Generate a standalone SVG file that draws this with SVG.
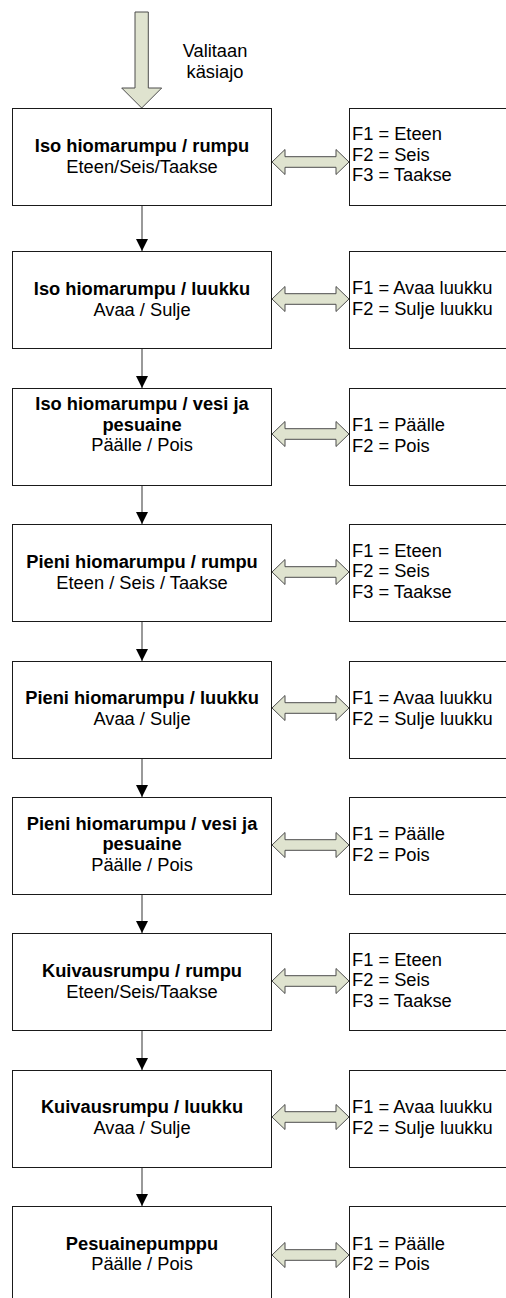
<svg xmlns="http://www.w3.org/2000/svg" width="506" height="1298" viewBox="0 0 506 1298">
  <style>
    .box { fill: #ffffff; stroke: #1a1a1a; stroke-width: 1; }
    .block { fill: #dfe3cf; stroke: #4d4d4d; stroke-width: 1; stroke-linejoin: miter; }
    .flow { stroke: #555555; stroke-width: 1.2; fill: none; }
    text { font-family: "Liberation Sans", Arial, sans-serif; font-size: 18.3px; fill: #000000; }
    .title { font-weight: bold; text-anchor: middle; }
    .sub { text-anchor: middle; }
    .key { text-anchor: start; }
  </style>
  <defs>
    <marker id="head" markerUnits="userSpaceOnUse" markerWidth="12" markerHeight="12" refX="12" refY="6" orient="auto" viewBox="0 0 12 12">
      <path d="M0,0 L12,6 L0,12 Z" fill="#000000"/>
    </marker>
    <!-- two-way block arrow between a control box and its key box -->
    <path id="dbl" class="block" d="M272,0 L285,-12.5 L285,-5.3 L336,-5.3 L336,-12.5 L349,0 L336,12.5 L336,5.3 L285,5.3 L285,12.5 Z"/>
  </defs>

  <!-- entry arrow -->
  <g id="entry">
    <path class="block" d="M135,12 L148.3,12 L148.3,88 L161.7,88 L141.7,108 L121.7,88 L135,88 Z"/>
    <text class="sub" x="215" y="57">Valitaan</text>
    <text class="sub" x="215" y="78">käsiajo</text>
  </g>

  <!-- control boxes -->
  <g id="n1">
    <rect class="box" x="12.5" y="108.5" width="259" height="97"/>
    <text class="title" x="142" y="152">Iso hiomarumpu / rumpu</text>
    <text class="sub" x="142" y="172.7">Eteen/Seis/Taakse</text>
  </g>
  <g id="n2">
    <rect class="box" x="12.5" y="251.5" width="259" height="97"/>
    <text class="title" x="142" y="295">Iso hiomarumpu / luukku</text>
    <text class="sub" x="142" y="315.7">Avaa / Sulje</text>
  </g>
  <g id="n3">
    <rect class="box" x="12.5" y="388.5" width="259" height="97"/>
    <text class="title" x="142" y="410">Iso hiomarumpu / vesi ja</text>
    <text class="title" x="142" y="430.7">pesuaine</text>
    <text class="sub" x="142" y="451.4">Päälle / Pois</text>
  </g>
  <g id="n4">
    <rect class="box" x="12.5" y="524.5" width="259" height="97"/>
    <text class="title" x="142" y="568">Pieni hiomarumpu / rumpu</text>
    <text class="sub" x="142" y="588.7">Eteen / Seis / Taakse</text>
  </g>
  <g id="n5">
    <rect class="box" x="12.5" y="661.5" width="259" height="97"/>
    <text class="title" x="142" y="704">Pieni hiomarumpu / luukku</text>
    <text class="sub" x="142" y="724.7">Avaa / Sulje</text>
  </g>
  <g id="n6">
    <rect class="box" x="12.5" y="797.5" width="259" height="97"/>
    <text class="title" x="142" y="829.5">Pieni hiomarumpu / vesi ja</text>
    <text class="title" x="142" y="850.2">pesuaine</text>
    <text class="sub" x="142" y="870.9">Päälle / Pois</text>
  </g>
  <g id="n7">
    <rect class="box" x="12.5" y="933.5" width="259" height="97"/>
    <text class="title" x="142" y="977">Kuivausrumpu / rumpu</text>
    <text class="sub" x="142" y="997.7">Eteen/Seis/Taakse</text>
  </g>
  <g id="n8">
    <rect class="box" x="12.5" y="1070.5" width="259" height="97"/>
    <text class="title" x="142" y="1113">Kuivausrumpu / luukku</text>
    <text class="sub" x="142" y="1133.7">Avaa / Sulje</text>
  </g>
  <g id="n9">
    <rect class="box" x="12.5" y="1206.5" width="259" height="97"/>
    <text class="title" x="142" y="1249.5">Pesuainepumppu</text>
    <text class="sub" x="142" y="1270.2">Päälle / Pois</text>
  </g>

  <!-- function key boxes -->
  <g id="k1">
    <rect class="box" x="349.5" y="108.5" width="170" height="97"/>
    <text class="key" x="352" y="140">F1 = Eteen</text>
    <text class="key" x="352" y="160.7">F2 = Seis</text>
    <text class="key" x="352" y="181.4">F3 = Taakse</text>
  </g>
  <g id="k2">
    <rect class="box" x="349.5" y="251.5" width="170" height="97"/>
    <text class="key" x="352" y="294">F1 = Avaa luukku</text>
    <text class="key" x="352" y="314.7">F2 = Sulje luukku</text>
  </g>
  <g id="k3">
    <rect class="box" x="349.5" y="388.5" width="170" height="97"/>
    <text class="key" x="352" y="431">F1 = Päälle</text>
    <text class="key" x="352" y="451.7">F2 = Pois</text>
  </g>
  <g id="k4">
    <rect class="box" x="349.5" y="524.5" width="170" height="97"/>
    <text class="key" x="352" y="556.5">F1 = Eteen</text>
    <text class="key" x="352" y="577.2">F2 = Seis</text>
    <text class="key" x="352" y="597.9">F3 = Taakse</text>
  </g>
  <g id="k5">
    <rect class="box" x="349.5" y="661.5" width="170" height="97"/>
    <text class="key" x="352" y="704">F1 = Avaa luukku</text>
    <text class="key" x="352" y="724.7">F2 = Sulje luukku</text>
  </g>
  <g id="k6">
    <rect class="box" x="349.5" y="797.5" width="170" height="97"/>
    <text class="key" x="352" y="840">F1 = Päälle</text>
    <text class="key" x="352" y="860.7">F2 = Pois</text>
  </g>
  <g id="k7">
    <rect class="box" x="349.5" y="933.5" width="170" height="97"/>
    <text class="key" x="352" y="965.5">F1 = Eteen</text>
    <text class="key" x="352" y="986.2">F2 = Seis</text>
    <text class="key" x="352" y="1006.9">F3 = Taakse</text>
  </g>
  <g id="k8">
    <rect class="box" x="349.5" y="1070.5" width="170" height="97"/>
    <text class="key" x="352" y="1113">F1 = Avaa luukku</text>
    <text class="key" x="352" y="1133.7">F2 = Sulje luukku</text>
  </g>
  <g id="k9">
    <rect class="box" x="349.5" y="1206.5" width="170" height="97"/>
    <text class="key" x="352" y="1249.5">F1 = Päälle</text>
    <text class="key" x="352" y="1270.2">F2 = Pois</text>
  </g>

  <!-- connectors -->
  <g id="connectors">
    <line class="flow" x1="142" y1="206" x2="142" y2="251" marker-end="url(#head)"/>
    <line class="flow" x1="142" y1="349" x2="142" y2="388" marker-end="url(#head)"/>
    <line class="flow" x1="142" y1="486" x2="142" y2="524" marker-end="url(#head)"/>
    <line class="flow" x1="142" y1="622" x2="142" y2="661" marker-end="url(#head)"/>
    <line class="flow" x1="142" y1="759" x2="142" y2="797" marker-end="url(#head)"/>
    <line class="flow" x1="142" y1="895" x2="142" y2="933" marker-end="url(#head)"/>
    <line class="flow" x1="142" y1="1031" x2="142" y2="1070" marker-end="url(#head)"/>
    <line class="flow" x1="142" y1="1168" x2="142" y2="1206" marker-end="url(#head)"/>

    <use href="#dbl" y="162"/>
    <use href="#dbl" y="299"/>
    <use href="#dbl" y="434"/>
    <use href="#dbl" y="572"/>
    <use href="#dbl" y="708"/>
    <use href="#dbl" y="845"/>
    <use href="#dbl" y="981"/>
    <use href="#dbl" y="1117"/>
    <use href="#dbl" y="1255"/>
  </g>
</svg>
